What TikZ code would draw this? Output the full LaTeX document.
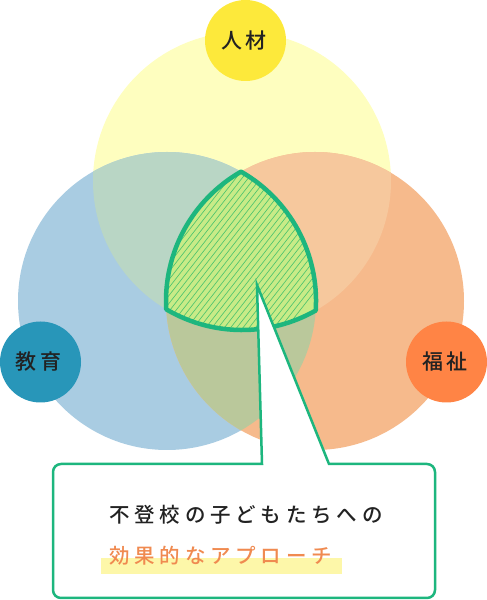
\documentclass[tikz,border=0pt]{standalone}
\usepackage{fontspec}
\setmainfont{Noto Sans CJK JP}
\newfontfamily\jpmed{Noto Sans CJK JP Medium}
\definecolor{Ycol}{HTML}{FEFEBF}
\definecolor{Bcol}{HTML}{A9CCE2}
\definecolor{Ocol}{HTML}{F6BA8C}
\definecolor{YBcol}{HTML}{B9D6C5}
\definecolor{YOcol}{HTML}{F6C89D}
\definecolor{BOcol}{HTML}{BAC89B}
\definecolor{triFill}{HTML}{C8EB87}
\definecolor{hatchCol}{HTML}{4EC46E}
\definecolor{lineGreen}{HTML}{1DB67E}
\definecolor{jinCol}{HTML}{FDE93B}
\definecolor{kyoCol}{HTML}{2896B9}
\definecolor{fukuCol}{HTML}{FF8445}
\definecolor{darkText}{HTML}{222222}
\definecolor{orangeText}{HTML}{F08A50}
\definecolor{hiliteCol}{HTML}{FDF7A9}
\def\lsp#1{\ifx#1\relax\else#1\kern4.8pt\expandafter\lsp\fi}
\def\lspb#1{\ifx#1\relax\else#1\kern3.5pt\expandafter\lspb\fi}
\tikzset{
  labelcircle/.style={circle,minimum size=81pt,inner sep=0pt,font=\fontsize{21}{24}\jpmed,text=darkText},
  bodytext/.style={anchor=west,inner sep=0pt,font=\fontsize{20.5}{24}\jpmed}
}
\begin{document}
\begin{tikzpicture}[x=1pt,y=1pt]
\useasboundingbox (0,0) rectangle (487,600);
\coordinate (cy) at (242,419);
\coordinate (cb) at (167,299);
\coordinate (co) at (315,299);
% base circles
\fill[Ycol] (cy) circle[radius=149];
\fill[Bcol] (cb) circle[radius=149];
\fill[Ocol] (co) circle[radius=149];
% overlaps
\begin{scope}\clip (cy) circle[radius=149]; \fill[YBcol] (cb) circle[radius=149];\end{scope}
\begin{scope}\clip (cy) circle[radius=149]; \fill[YOcol] (co) circle[radius=149];\end{scope}
\begin{scope}\clip (cb) circle[radius=149]; \fill[BOcol] (co) circle[radius=149];\end{scope}
% triple region
\def\tripath{(241,428.3) arc[start angle=119.78,end angle=183.19,radius=149]
  arc[start angle=239.43,end angle=299.65,radius=149]
  arc[start angle=-3.66,end angle=60.22,radius=149] -- cycle}
\fill[triFill] \tripath;
\begin{scope}
  \clip \tripath;
  \foreach \i in {0,...,64}{
    \draw[hatchCol,line width=0.65pt] ({-120+\i*6.2},260) -- ++(52:260);
  }
\end{scope}
\draw[lineGreen,line width=4.5pt,line join=round] \tripath;
% callout
\coordinate (tip) at (257,315);
\coordinate (tl) at (262,136);
\coordinate (tr) at (329,136);
\filldraw[fill=white,draw=lineGreen,line width=2.5pt,line join=miter]
  (tl) -- (tip) -- (tr) -- (427,136) arc[start angle=90,end angle=0,radius=8]
  -- (435,10) arc[start angle=0,end angle=-90,radius=8]
  -- (61,2) arc[start angle=270,end angle=180,radius=8]
  -- (53,128) arc[start angle=180,end angle=90,radius=8] -- cycle;
% highlight
\fill[hiliteCol] (101,26) rectangle (342,42);
\node[bodytext,text=darkText] (line1) at (109,85) {\lsp 不登校の子どもたちへの\relax};
\node[bodytext,text=orangeText] (line2) at (109,44) {\lsp 効果的なアプローチ\relax};
% labels
\node[labelcircle,fill=jinCol] (jinzai) at (245.5,559.5) {\lspb 人材\relax};
\node[labelcircle,fill=kyoCol] (kyoiku) at (40.5,238) {\lspb 教育\relax};
\node[labelcircle,fill=fukuCol] (fukushi) at (446.5,238) {\lspb 福祉\relax};
\end{tikzpicture}
\end{document}
